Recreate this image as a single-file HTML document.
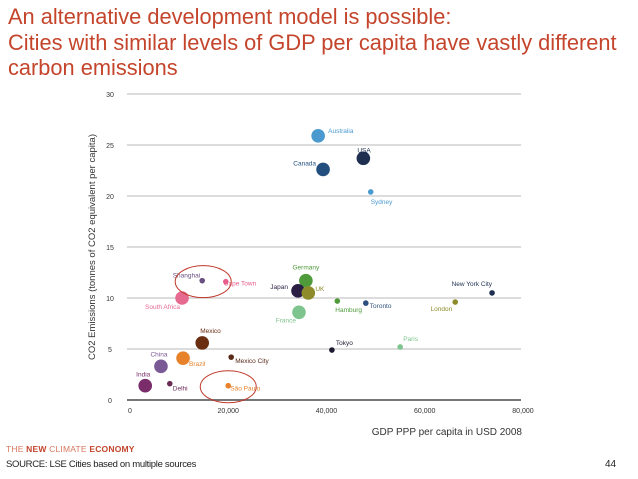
<!DOCTYPE html>
<html><head><meta charset="utf-8"><style>
body{margin:0;width:638px;height:479px;background:#fff;overflow:hidden;font-family:"Liberation Sans",sans-serif;position:relative}
#title{position:absolute;left:8px;top:4px;color:#c4452c;font-size:21.8px;line-height:25.5px;margin:0;font-weight:normal}
#logo{position:absolute;left:6px;top:444px;font-size:8.5px;color:#d9775e;letter-spacing:0.2px}
#logo b{color:#c4452c}
#src{position:absolute;left:6px;top:459px;font-size:9.5px;color:#222;letter-spacing:-0.3px}
#pg{position:absolute;left:605px;top:459px;font-size:10px;color:#222}
svg{position:absolute;left:0;top:0}
</style></head><body>
<h1 id="title">An alternative development model is possible:<br>Cities with similar levels of GDP per capita have vastly different<br>carbon emissions</h1>
<svg id="chart" width="638" height="479"></svg>
<div id="logo">THE <b>NEW</b> CLIMATE <b>ECONOMY</b></div>
<div id="src">SOURCE: LSE Cities based on multiple sources</div>
<div id="pg">44</div>
<script>
const names=["Australia","Canada","USA","Sydney","Shanghai","Cape Town","South Africa","Germany","Japan","UK","Hamburg","Toronto","London","New York City","France","Tokyo","Paris","Mexico","Mexico City","China","Brazil","India","Delhi","São Paulo"];
const gdp=[38300,39300,47500,49000,14700,19500,10600,35800,34200,36300,42200,48000,66200,73700,34400,41100,55000,14700,20600,6300,10800,3100,8100,20000];
const co2=[25.9,22.6,23.7,20.4,11.7,11.6,10.0,11.7,10.7,10.5,9.7,9.5,9.6,10.5,8.6,4.9,5.2,5.6,4.2,3.3,4.1,1.4,1.6,1.4];
const isCountry=[1,1,1,0,0,0,1,1,1,1,0,0,0,0,1,0,0,1,0,1,1,1,0,0];
const xTicks=[0,20000,40000,60000,80000];
const xTickLabels=["0","20,000","40,000","60,000","80,000"];
const yTicks=[0,5,10,15,20,25,30];
const colors=["#4a9ad0","#234f7e","#1e2f50","#4a9ad0","#6a4f80","#e65c8a","#e66a90","#4f9a3a","#2a1e45","#8e8c2a","#4f9a3a","#2e4f7e","#8e8c2a","#1e2f50","#7ec48e","#1e1a30","#7ec48e","#6a2d10","#5a2a1a","#7a5a95","#e8822a","#7a2d6a","#6a2d55","#e8822a"];
const lab=[[10,-3,"start"],[-7,-4,"end"],[-6,-6,"start"],[0,12,"start"],[-2,-3,"end"],[-2,4,"start"],[-2,11,"end"],[0,-11,"middle"],[-10,-2,"end"],[7,-2,"start"],[-2,11,"start"],[4,5,"start"],[-3,9,"end"],[0,-7,"end"],[-3,10,"end"],[4,-5,"start"],[3,-6,"start"],[-2,-10,"start"],[4,6,"start"],[-2,-10,"middle"],[6,8,"start"],[-2,-9,"middle"],[3,7,"start"],[2,5,"start"]];
const X=v=>130+v*(393/80000), Y=v=>400-v*10.2;
const S="http://www.w3.org/2000/svg",svg=document.getElementById('chart');
function mk(t,a,p){const e=document.createElementNS(S,t);for(const k in a)e.setAttribute(k,a[k]);(p||svg).appendChild(e);return e;}
yTicks.forEach(t=>{
 const l=mk('line',{x1:127,x2:521,y1:Y(t),y2:Y(t),stroke:t?"#c8c8c8":"#777","stroke-width":t?1.2:2});
 
 
 const tx=mk('text',{x:110,y:Y(t)+3,"font-size":7,fill:"#333","text-anchor":"middle"});tx.textContent=t;
 
 
});
xTicks.forEach((t,i)=>{
 const tx=mk('text',{x:X(t),y:413,"font-size":7,fill:"#333","text-anchor":"middle"});tx.textContent=xTickLabels[i];
 
 
});
const xt=mk('text',{x:522,y:435,"font-size":10,fill:"#333","text-anchor":"end"});xt.textContent="GDP PPP per capita in USD 2008";


const yt=mk('text',{x:0,y:0,"font-size":9.5,fill:"#333","text-anchor":"middle",transform:"translate(95,247) rotate(-90)"});yt.textContent="CO2 Emissions (tonnes of CO2 equivalent per capita)";


names.forEach((n,i)=>{
 const cx=X(gdp[i]),cy=Y(co2[i]);
 const c=mk('circle',{cx:cx,cy:cy,r:isCountry[i]?6.8:2.8,fill:colors[i]});
 
 
 const o=lab[i];
 const t=mk('text',{x:cx+o[0],y:cy+o[1],"font-size":6.5,fill:colors[i],"text-anchor":o[2]});t.textContent=n;
 
 
});
const e1=mk('ellipse',{cx:X(14700)+1,cy:Y(11.7)+1,rx:28,ry:16,fill:"none",stroke:"#c0392b","stroke-width":1});


const e2=mk('ellipse',{cx:X(20000)+0,cy:Y(1.4)+1,rx:28,ry:16,fill:"none",stroke:"#c0392b","stroke-width":1});


</script>
</body></html>
